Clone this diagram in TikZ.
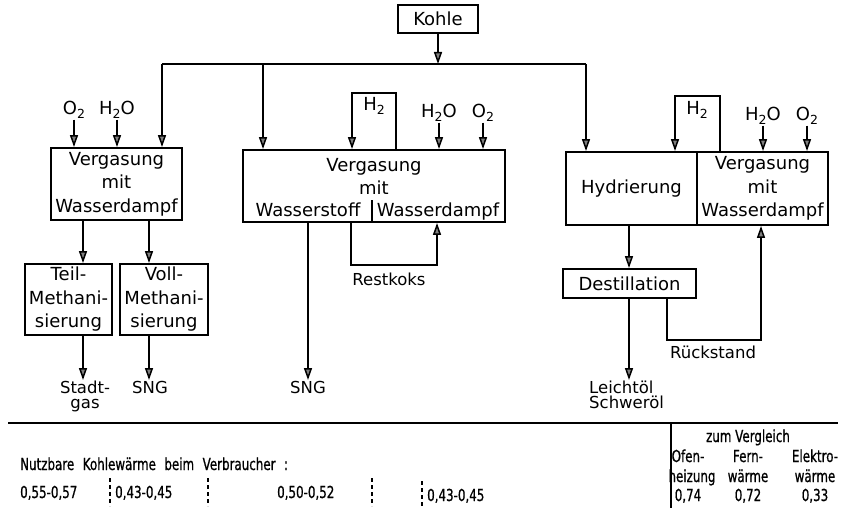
\documentclass[tikz,border=0pt]{standalone}
\usepackage{fontspec}
\setmainfont{DejaVu Sans}
\newfontfamily\tabfont[FakeStretch=0.72,FakeBold=0.8]{DejaVu Sans}
\usetikzlibrary{arrows.meta}
\newcommand\mainsize{\fontsize{18}{23.5}\selectfont}
\newcommand\outsize{\fontsize{16.5}{15}\selectfont}
\newcommand\tabsize{\tabfont\fontsize{16.5}{20}\selectfont}
\newcommand\mysub[1]{\raisebox{-0.35ex}{\fontsize{12.5}{12.5}\selectfont #1}}
\begin{document}
\begin{tikzpicture}[x=1pt,y=-1pt,
  box/.style={draw,line width=1.9pt,inner sep=0pt,align=center,font=\mainsize},
  lbl/.style={inner sep=1pt,align=center,font=\mainsize},
  outlbl/.style={inner sep=1pt,align=center,font=\outsize},
  tab/.style={inner sep=0pt,font=\tabsize,align=center},
  conn/.style={line width=1.5pt},
  arr/.style={conn,-{Triangle[length=12pt,width=8pt,fill=gray]}},
  sepline/.style={line width=1.1pt,dash pattern=on 4pt off 3pt},
  rule/.style={line width=1.5pt}]
\fill[white] (0,0) rectangle (842,508);
\useasboundingbox (0,0) rectangle (842,508);

% ---------- Kohle and distribution line
\node[box,minimum width=80pt,minimum height=28pt] (kohle) at (438,19) {Kohle};
\coordinate (tl) at (162,64);
\coordinate (tm) at (263,64);
\coordinate (tr) at (586,64);
\draw[conn] (tl) -- (tr);
\draw[arr] (kohle.south) -- (kohle.south |- tl);

% ---------- left branch
\node[box,minimum width=131pt,minimum height=72pt] (vg1) at (116.5,184) {Vergasung\\mit\\Wasserdampf};
\draw[arr] (tl) -- (tl |- vg1.north);
\node[lbl] (o2a) at (74,110) {O\mysub{2}};
\node[lbl] (h2oa) at (117,110) {H\mysub{2}O};
\draw[arr] (o2a.south) -- (o2a.south |- vg1.north);
\draw[arr] (h2oa.south) -- (h2oa.south |- vg1.north);

\node[box,minimum width=87pt,minimum height=71pt] (teil) at (68.5,299.5) {Teil-\\Methani-\\sierung};
\node[box,minimum width=88pt,minimum height=71pt] (voll) at (164,299.5) {Voll-\\Methani-\\sierung};
\coordinate (xa) at (83,0);
\coordinate (xb) at (149,0);
\draw[arr] (vg1.south -| xa) -- (teil.north -| xa);
\draw[arr] (vg1.south -| xb) -- (voll.north -| xb);
\node[outlbl,anchor=north] (stadt) at (85,380) {Stadt-\\gas};
\node[outlbl,anchor=north] (sng1) at (150,380) {SNG};
\draw[arr] (teil.south -| xa) -- (stadt.north -| xa);
\draw[arr] (voll.south -| xb) -- (sng1.north -| xb);

% ---------- middle branch
\node[box,minimum width=262pt,minimum height=72pt] (vg2) at (374,186) {};
\node[lbl,inner sep=0pt,anchor=base] (vg2a) at (374,171) {Vergasung};
\node[lbl,inner sep=0pt,anchor=base] (vg2b) at (374,194) {mit};
\node[lbl,inner sep=0pt,anchor=base] (vg2c) at (308,216) {Wasserstoff};
\node[lbl,inner sep=0pt,anchor=base] (vg2d) at (438,216) {Wasserdampf};
\coordinate (xd) at (372,200);
\draw[line width=1.9pt] (xd) -- (xd |- vg2.south);
\draw[arr] (tm) -- (tm |- vg2.north);
\coordinate (hmL) at (352,93);
\coordinate (hmR) at (396,93);
\draw[arr] (hmR |- vg2.north) -- (hmR) -- (hmL) -- (hmL |- vg2.north);
\node[lbl] (h2b) at (374,106) {H\mysub{2}};
\node[lbl] (h2ob) at (439,113) {H\mysub{2}O};
\node[lbl] (o2b) at (483,113) {O\mysub{2}};
\draw[arr] (h2ob.south) -- (h2ob.south |- vg2.north);
\draw[arr] (o2b.south) -- (o2b.south |- vg2.north);
\node[outlbl,anchor=north] (sng2) at (308,380) {SNG};
\draw[arr] (vg2.south -| sng2.north) -- (sng2.north);
\coordinate (rkL) at (351,265);
\coordinate (rkR) at (437,265);
\draw[arr] (rkL |- vg2.south) -- (rkL) -- (rkR) -- (rkR |- vg2.south);
\node[outlbl,inner sep=0pt,anchor=base] (restkoks) at (389,285) {Restkoks};

% ---------- right branch
\node[box,minimum width=131pt,minimum height=73pt] (hyd) at (631.5,188.5) {Hydrierung};
\node[box,minimum width=131pt,minimum height=73pt] (vg3) at (762.5,188.5) {Vergasung\\mit\\Wasserdampf};
\draw[arr] (tr) -- (tr |- hyd.north);
\coordinate (rhL) at (675,96);
\coordinate (rhR) at (720,96);
\draw[arr] (rhR |- vg3.north) -- (rhR) -- (rhL) -- (rhL |- hyd.north);
\node[lbl] (h2c) at (697,110) {H\mysub{2}};
\node[lbl] (h2oc) at (763,116) {H\mysub{2}O};
\node[lbl] (o2c) at (807,116) {O\mysub{2}};
\draw[arr] (h2oc.south) -- (h2oc.south |- vg3.north);
\draw[arr] (o2c.south) -- (o2c.south |- vg3.north);
\node[box,minimum width=133pt,minimum height=29pt] (dest) at (629.5,283.5) {Destillation};
\coordinate (xc) at (629,0);
\draw[arr] (hyd.south -| xc) -- (dest.north -| xc);
\node[outlbl,anchor=north west,align=left] (oel) at (588,380) {Leichtöl\\Schweröl};
\draw[arr] (dest.south -| xc) -- (xc |- oel.north);
\coordinate (rsL) at (667,340);
\coordinate (rsR) at (761,340);
\draw[arr] (rsL |- dest.south) -- (rsL) -- (rsR) -- (rsR |- vg3.south);
\node[outlbl,inner sep=0pt,anchor=base] (rueck) at (713,358) {Rückstand};

% ---------- table
\coordinate (bl) at (8,423);
\coordinate (br) at (838,423);
\draw[rule] (bl) -- (br);
\coordinate (vt) at (671,423);
\coordinate (vb) at (671,508);
\draw[conn] (vt) -- (vb);
\foreach \sx/\sy in {110/478,208/478,372/478,422/481}{
  \draw[sepline] (\sx,\sy) -- (\sx,506);
}
\node[tab,anchor=base west] (nutz) at (20,470) {\spaceskip=8.5pt Nutzbare Kohlewärme beim Verbraucher :};
\node[tab,anchor=base west] (w1) at (20,498) {0,55-0,57};
\node[tab,anchor=base west] (w2) at (115,498) {0,43-0,45};
\node[tab,anchor=base west] (w3) at (277,498) {0,50-0,52};
\node[tab,anchor=base west] (w4) at (427,501) {0,43-0,45};
\node[tab,anchor=base] (zum) at (748,442) {zum Vergleich};
\node[tab,anchor=base] (ofen) at (688,462) {Ofen-};
\node[tab,anchor=base] (heiz) at (692,482) {heizung};
\node[tab,anchor=base] (fern) at (748,462) {Fern-};
\node[tab,anchor=base] (fernw) at (748,482) {wärme};
\node[tab,anchor=base] (elek) at (815,462) {Elektro-};
\node[tab,anchor=base] (elekw) at (815,482) {wärme};
\node[tab,anchor=base] (v1) at (688,501) {0,74};
\node[tab,anchor=base] (v2) at (748,501) {0,72};
\node[tab,anchor=base] (v3) at (815,501) {0,33};
\end{tikzpicture}
\end{document}
